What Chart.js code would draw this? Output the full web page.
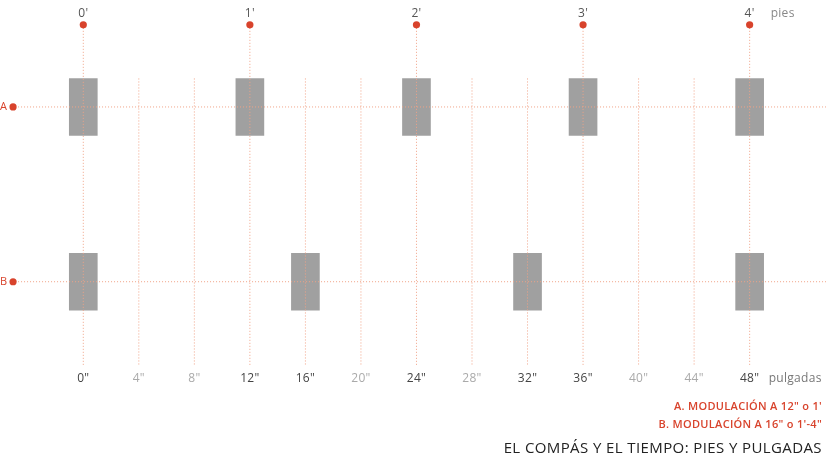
<!DOCTYPE html>
<html>
<head>
<meta charset="utf-8">
<script src="https://cdn.jsdelivr.net/npm/chart.js@4/dist/chart.umd.min.js"></script>
<style>
  body { margin: 0; background: #fff; }
  #wrap { width: 826px; height: 460px; position: relative; }
</style>
</head>
<body>
<div id="wrap"><canvas id="chart"></canvas></div>
<script>
// inches along the bottom, feet along the top
const inchTicks = [0, 4, 8, 12, 16, 20, 24, 28, 32, 36, 40, 44, 48]
const inchLabels = ['0"', '4"', '8"', '12"', '16"', '20"', '24"', '28"', '32"', '36"', '40"', '44"', '48"']
const strongInches = [0, 12, 16, 24, 32, 36, 48]
const footTicks = [0, 12, 24, 36, 48]
const footLabels = ["0'", "1'", "2'", "3'", "4'"]

// rows (y value of each row line) and where the posts sit
const rowNames = ['A', 'B']
const rowLevel = [2, 1]
const postsA = [0, 12, 24, 36, 48]
const postsB = [0, 16, 32, 48]

const legendLines = ['A. MODULACIÓN A 12" o 1\'', 'B. MODULACIÓN A 16" o 1\'-4"']
const caption = 'EL COMPÁS Y EL TIEMPO: PIES Y PULGADAS'

const postHalf = 0.163    // half height of a post, in row units
const footDotY = 2.47
const lineBottom = 0.52
const rowStartX = -4.7
const rowDotX = -5.06

const RED = '#d8432c'
const GRID = '#f0a286'
const POST = '#a0a0a0'
const FONT = '"Open Sans", "DejaVu Sans", sans-serif'

function postData(posts, level) {
    return posts.map(x => ({x: x, y: [level - postHalf, level + postHalf]}))
}

function dotted(points) {
    return {
        type: 'line',
        data: points,
        borderColor: GRID,
        borderWidth: 1,
        borderDash: [1, 2],
        pointRadius: 0,
        fill: false,
        order: 1
    }
}

var datasets = []
datasets.push({type: 'bar', data: postData(postsA, rowLevel[0]), backgroundColor: POST, barThickness: 28, grouped: false, order: 3})
datasets.push({type: 'bar', data: postData(postsB, rowLevel[1]), backgroundColor: POST, barThickness: 28, grouped: false, order: 3})

// vertical guides: foot lines start at the dot, the rest at the top of row A posts
inchTicks.forEach(t => {
    var top = footTicks.includes(t) ? footDotY : rowLevel[0] + postHalf
    datasets.push(dotted([{x: t, y: top}, {x: t, y: lineBottom}]))
})
// horizontal row lines
rowLevel.forEach(l => {
    datasets.push(dotted([{x: rowStartX, y: l}, {x: 53.5, y: l}]))
})
// red dots
datasets.push({
    type: 'scatter',
    data: footTicks.map(t => ({x: t, y: footDotY})).concat(rowLevel.map(l => ({x: rowDotX, y: l}))),
    backgroundColor: RED,
    borderWidth: 0,
    pointRadius: 3.6,
    order: 0
})

const labelsPlugin = {
    id: 'labels',
    afterDraw(chart) {
        const ctx = chart.ctx, xs = chart.scales.x, ys = chart.scales.y
        ctx.save()
        ctx.textBaseline = 'middle'
        ctx.textAlign = 'center'
        ctx.letterSpacing = '0.3px'
        ctx.font = '12px ' + FONT
        footTicks.forEach((t, i) => {
            ctx.fillStyle = '#555'
            ctx.fillText(footLabels[i], xs.getPixelForValue(t), ys.getPixelForValue(footDotY) - 11)
        })
        ctx.textAlign = 'left'
        ctx.fillStyle = '#888'
        ctx.fillText('pies', xs.getPixelForValue(48) + 21, ys.getPixelForValue(footDotY) - 11)

        ctx.textAlign = 'center'
        var ly = ys.getPixelForValue(lineBottom) + 13
        inchTicks.forEach((t, i) => {
            ctx.fillStyle = strongInches.includes(t) ? '#444' : '#aaa'
            ctx.fillText(inchLabels[i], xs.getPixelForValue(t), ly)
        })
        ctx.textAlign = 'left'
        ctx.fillStyle = '#777'
        ctx.fillText('pulgadas', xs.getPixelForValue(48) + 19, ly)

        // row letters
        ctx.font = '11px ' + FONT
        ctx.fillStyle = RED
        rowNames.forEach((n, i) => {
            ctx.fillText(n, 0, ys.getPixelForValue(rowLevel[i]))
        })

        // legend + caption, right aligned
        ctx.textAlign = 'right'
        ctx.font = '600 11px ' + FONT
        ctx.fillStyle = RED
        legendLines.forEach((s, i) => {
            ctx.fillText(s, 822, ly + 28 + i * 18)
        })
        ctx.letterSpacing = '0.4px'
        ctx.font = '15px ' + FONT
        ctx.fillStyle = '#222'
        ctx.fillText(caption, 822, ly + 70)
        ctx.restore()
    }
}

new Chart(document.getElementById('chart'), {
    type: 'bar',
    data: {datasets: datasets},
    options: {
        responsive: true,
        maintainAspectRatio: false,
        animation: false,
        layout: {padding: 0, autoPadding: false},
        plugins: {legend: {display: false}, tooltip: {enabled: false}},
        scales: {
            x: {type: 'linear', min: -6, max: 53.5, display: false, offset: false},
            y: {type: 'linear', min: -0.02, max: 2.612, display: false}
        }
    },
    plugins: [labelsPlugin]
})
</script>
</body>
</html>
